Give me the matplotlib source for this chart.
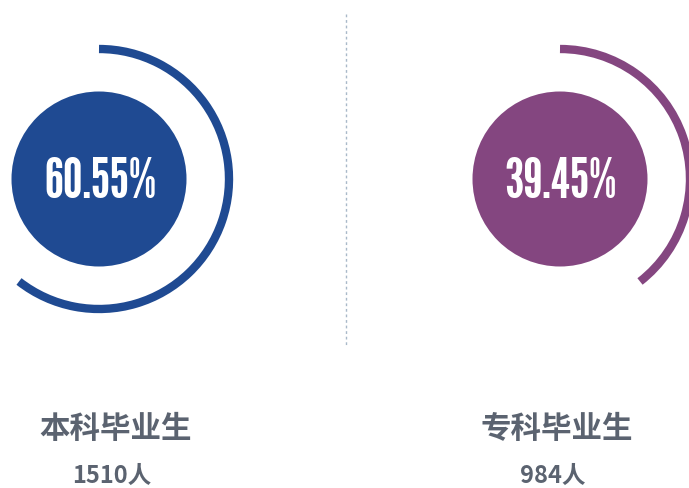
import matplotlib.pyplot as plt
import matplotlib.font_manager as fm
from matplotlib.patches import Circle, Arc

# data
categories = ['本科毕业生', '专科毕业生']
shares = [60.55, 39.45]
counts = [1510, 984]
colors = ['#1f4a92', '#844680']

plt.rcParams['font.family'] = ['Noto Sans CJK SC', 'DejaVu Sans']

# a tall, narrow face for the big percentages
installed = {f.name for f in fm.fontManager.ttflist}
pct_family = 'DejaVu Sans'
for fam in ['League Gothic', 'Antonio', 'Pathway Gothic One', 'Big Shoulders Display',
            'Saira Extra Condensed', 'Sofia Sans Extra Condensed', 'Fjalla One',
            'Oswald', 'Bebas Neue', 'Anton', 'Barlow Condensed']:
    if fam in installed:
        pct_family = fam
        break

W, H = 689, 489
fig = plt.figure(figsize=(W / 100, H / 100), dpi=100)
ax = fig.add_axes([0, 0, 1, 1])
ax.set_xlim(0, W)
ax.set_ylim(0, H)
ax.set_aspect('equal')
ax.axis('off')

centers_x = [99, 560]
cy = H - 180
r_in = 87.5
r_arc = 130
label_x = [116, 557]

pct_texts = []
for i in range(len(categories)):
    cx = centers_x[i]
    ax.add_patch(Circle((cx, cy), r_in, color=colors[i], lw=0))
    # arc goes clockwise from 12 o'clock
    sweep = 360 * shares[i] / 100
    ax.add_patch(Arc((cx, cy), 2 * r_arc, 2 * r_arc, theta1=90 - sweep, theta2=90,
                     color=colors[i], lw=6, capstyle='butt'))
    t = ax.text(cx + 1, cy - 3, f'{shares[i]:.2f}%', ha='center', va='center', color='white',
                family=pct_family, fontweight='bold', fontsize=40)
    pct_texts.append(t)
    ax.text(label_x[i], H - 429, categories[i], ha='center', va='center',
            color='#5b6370', fontsize=22, fontweight='bold')
    ax.text(label_x[i] - 4, H - 476, f'{counts[i]}人', ha='center', va='center',
            color='#5b6370', fontsize=17, fontweight='bold')

# size the percentages to about 112 px wide
fig.canvas.draw()
r = fig.canvas.get_renderer()
w = pct_texts[0].get_window_extent(r).width
fs = min(40 * 112 / w, 52)
for t in pct_texts:
    t.set_fontsize(fs)

# divider
ax.plot([346, 346], [H - 15, H - 347], color='#a9b9c9', lw=1, ls=(0, (2, 2)))

fig.savefig('out.png', dpi=100)
